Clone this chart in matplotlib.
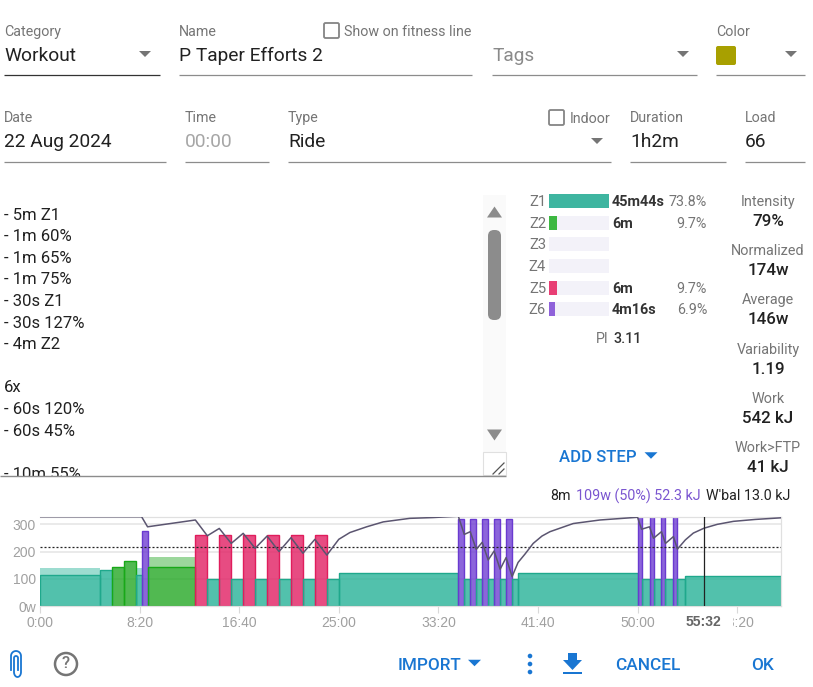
import numpy as np
import matplotlib
matplotlib.use('Agg')
import matplotlib.pyplot as plt
from matplotlib.patches import Rectangle, Circle, Polygon, FancyBboxPatch
from matplotlib.transforms import blended_transform_factory

plt.rcParams['font.family'] = ['Roboto', 'DejaVu Sans']

W, H = 813, 687

# workout steps
step_secs = [300, 60, 60, 60, 30, 30, 240,
             60, 60, 60, 60, 60, 60, 60, 60, 60, 60, 60, 60,
             600,
             30, 30, 30, 30, 30, 30, 30, 30, 30, 30,
             600,
             20, 40, 20, 40, 20, 40, 20, 40,
             480]
step_watts = [114, 131, 142, 164, 114, 277, 143,
              262, 98, 262, 98, 262, 98, 262, 98, 262, 98, 262, 98,
              120,
              320, 98, 320, 98, 320, 98, 320, 98, 320, 98,
              120,
              400, 98, 400, 98, 400, 98, 400, 98,
              109]
step_top = [140, 131, 142, 164, 140, 277, 179,
            262, 98, 262, 98, 262, 98, 262, 98, 262, 98, 262, 98,
            120,
            320, 98, 320, 98, 320, 98, 320, 98, 320, 98,
            120,
            400, 98, 400, 98, 400, 98, 400, 98,
            109]
step_zone = [1, 1, 2, 2, 1, 6, 2,
             5, 1, 5, 1, 5, 1, 5, 1, 5, 1, 5, 1,
             1,
             6, 1, 6, 1, 6, 1, 6, 1, 6, 1,
             1,
             6, 1, 6, 1, 6, 1, 6, 1,
             1]
ftp = 218
cursor_sec = 3332

# W'bal line, on the power axis scale
wbal_secs = [0, 510, 540, 780, 840, 900, 960, 1020, 1080, 1140, 1200, 1260, 1320, 1380, 1440,
             1500, 1556, 1640, 1723, 1856, 1973, 2100, 2130, 2160, 2190, 2220, 2250, 2280, 2310, 2340, 2370,
             2400, 2435, 2476, 2520, 2560, 2677, 2811, 3000, 3020, 3060, 3080, 3120, 3140, 3180, 3200,
             3240, 3280, 3334, 3400, 3481, 3590, 3720]
wbal_vals = [328, 328, 291, 316, 258, 285, 230, 267, 212, 257, 200, 251, 194, 245, 187,
             245, 270, 291, 309, 322, 325, 330, 263, 273, 208, 234, 169, 202, 135, 178, 108,
             160, 191, 230, 257, 273, 303, 316, 326, 282, 291, 249, 273, 230, 255, 209,
             243, 268, 286, 300, 311, 318, 324]

x_ticks = [0, 500, 1000, 1500, 2000, 2500, 3000, 3500]
x_tick_labels = ['0:00', '8:20', '16:40', '25:00', '33:20', '41:40', '50:00', '58:20']
y_ticks = [0, 100, 200, 300]
y_tick_labels = ['0w', '100', '200', '300']

# zone table
zone_names = ['Z1', 'Z2', 'Z3', 'Z4', 'Z5', 'Z6']
zone_pct = [73.8, 9.7, 0, 0, 9.7, 6.9]
zone_times = ['45m44s', '6m', '', '', '6m', '4m16s']
zone_pct_labels = ['73.8%', '9.7%', '', '', '9.7%', '6.9%']

stat_names = ['Intensity', 'Normalized', 'Average', 'Variability', 'Work', 'Work>FTP']
stat_values = ['79%', '174w', '146w', '1.19', '542 kJ', '41 kJ']

description = ['- 5m Z1', '- 1m 60%', '- 1m 65%', '- 1m 75%', '- 30s Z1', '- 30s 127%', '- 4m Z2', '',
               '6x', '- 60s 120%', '- 60s 45%', '', '- 10m 55%']

zone_fill = {1: '#27b297', 2: '#25a825', 5: '#e21f63', 6: '#6f3fd2'}
zone_edge = {1: '#1fa88c', 2: '#18a818', 5: '#e01d5c', 6: '#6a3ad0'}
zone_bar = {1: '#3eb5a0', 2: '#3db842', 5: '#e83e74', 6: '#8f62da'}

GREY = '#757575'
DARK = '#212121'
LINE = '#8c8c8c'
BLUE = '#1976d2'

fig = plt.figure(figsize=(W / 100, H / 100), dpi=100, facecolor='white')

# full figure layer in pixels for the form around the chart
ui = fig.add_axes([0, 0, 1, 1])
ui.set_xlim(0, W)
ui.set_ylim(H, 0)
ui.axis('off')


def txt(x, y, s, size=10.3, color=DARK, ha='left', weight='normal', zorder=3):
    return ui.text(x, y + 1, s, fontsize=size, color=color, ha=ha, va='center', weight=weight, zorder=zorder)


def hline(x0, x1, y, color=LINE, lw=0.9, zorder=3):
    ui.plot([x0, x1], [y, y], color=color, lw=lw, solid_capstyle='butt', zorder=zorder)


def tri(cx, cy, w=12, h=6, color=GREY, down=True):
    d = h / 2 if down else -h / 2
    ui.add_patch(Polygon([(cx - w / 2, cy - d), (cx + w / 2, cy - d), (cx, cy + d)], color=color, lw=0))


def checkbox(x, y, s=15):
    ui.add_patch(FancyBboxPatch((x, y), s, s, boxstyle='round,pad=0,rounding_size=1.5',
                                fc='white', ec='#858585', lw=1.3))


LBL = 10.3
VAL = 13.8

txt(4, 31, 'Category', LBL, GREY)
txt(4, 55, 'Workout', VAL)
hline(4, 160, 75, '#333333')
tri(145, 54)

txt(179, 31, 'Name', LBL, GREY)
txt(179, 55, 'P Taper Efforts 2', VAL)
hline(179, 472, 75)
checkbox(324, 23)
txt(344, 31, 'Show on fitness line', LBL, GREY)

txt(492, 55, 'Tags', VAL, '#8a8a8a')
hline(492, 697, 75)
tri(683, 54)

txt(716, 31, 'Color', LBL, GREY)
ui.add_patch(FancyBboxPatch((716, 46), 20, 19, boxstyle='round,pad=0,rounding_size=2', fc='#a8a000', ec='none'))
tri(791, 54)
hline(716, 805, 75)

txt(4, 117, 'Date', LBL, GREY)
txt(4, 141, '22 Aug 2024', VAL)
hline(4, 166, 162)
txt(185, 117, 'Time', LBL, GREY)
txt(185, 141, '00:00', VAL, '#a6a6a6')
hline(185, 269, 162)
txt(288, 117, 'Type', LBL, GREY)
txt(288, 141, 'Ride', VAL)
hline(288, 611, 162)
tri(597, 141)
checkbox(549, 110)
txt(570, 118, 'Indoor', LBL, GREY)
txt(630, 117, 'Duration', LBL, GREY)
txt(630, 141, '1h2m', VAL)
hline(630, 726, 162)
txt(745, 117, 'Load', LBL, GREY)
txt(745, 141, '66', VAL)
hline(745, 805, 162)

# description box, last line cut off by the border
for i, line in enumerate(description):
    txt(4, 214 + i * 21.6, line, 12, zorder=2)
ui.add_patch(Rectangle((0, 476), 510, 14, fc='white', ec='none', zorder=2.5))

# scrollbar
ui.add_patch(Rectangle((483, 195), 23, 280, fc='#fafafa', ec='none'))
ui.add_patch(FancyBboxPatch((488, 230), 13, 90, boxstyle='round,pad=0,rounding_size=6', fc='#8c8c8c', ec='none'))
tri(494.5, 212, 15, 11, '#8c8c8c', down=False)
tri(494.5, 435, 15, 11, '#8c8c8c', down=True)
ui.add_patch(Rectangle((483, 452), 23, 23, fc='white', ec='#e0e0e0', lw=0.8))
ui.plot([493, 504], [474, 463], color='#555555', lw=0.9)
ui.plot([499, 504], [474, 469], color='#555555', lw=0.9)
hline(0, 506, 475.8, '#8c8c8c', lw=1.0)

# zone table
zone_y = 201 + np.arange(len(zone_names)) * 21.65
zones_ax = fig.add_axes([549 / W, 1 - 316 / H, 60 / W, 122 / H])
zones_ax.set_xlim(0, max(zone_pct))
zones_ax.set_ylim(316, 194)
zones_ax.axis('off')
zones_ax.barh(zone_y, [max(zone_pct)] * len(zone_y), height=14, color='#f3f2f9', lw=0)
zones_ax.barh(zone_y, zone_pct, height=14, color=[zone_bar[1], zone_bar[2], zone_bar[2], zone_bar[2], zone_bar[5], zone_bar[6]], lw=0)
for i, y in enumerate(zone_y):
    txt(546, y, zone_names[i], 10.6, GREY, ha='right')
    txt(612, y, zone_times[i], 10.4, '#333333', weight='bold')
    txt(707, y, zone_pct_labels[i], 10.3, GREY, ha='right')
txt(608, 338, 'PI', 10.3, GREY, ha='right')
txt(613, 338, '3.11', 10.3, '#333333', weight='medium')

for i, name in enumerate(stat_names):
    y = 201 + i * 49.2
    txt(768, y, name, 10.4, GREY, ha='center')
    txt(768, y + 19.5, stat_values[i], 12.2, DARK, ha='center', weight='medium')

txt(559, 457, 'ADD STEP', 12, BLUE, weight='medium')
tri(651, 455.5, 13, 6.5, BLUE)

# readout above the chart
txt(550, 495, '8m', 10.3, DARK)
txt(576, 495, "109w (50%) 52.3 kJ", 10.3, '#7a55d0')
txt(706, 495, "W'bal 13.0 kJ", 10.3, DARK)

# chart
ax = fig.add_axes([40 / W, 1 - 606 / H, 741 / W, 89 / H])
edges = np.concatenate([[0], np.cumsum(step_secs)])
ax.set_xlim(0, edges[-1])
ax.set_ylim(0, 327)
ax.set_axisbelow(True)
for i, dur in enumerate(step_secs):
    z = step_zone[i]
    ax.bar(edges[i], step_watts[i], width=dur, align='edge', color=zone_fill[z], alpha=0.8, lw=0, zorder=2)
    ax.bar(edges[i], step_watts[i], width=dur, align='edge', fill=False, edgecolor=zone_edge[z], lw=1.0, zorder=2.2)
    if step_top[i] > step_watts[i]:
        ax.bar(edges[i], step_top[i] - step_watts[i], bottom=step_watts[i], width=dur, align='edge',
               color=zone_fill[z], alpha=0.45, lw=0, zorder=2)
ax.axhline(ftp, color='#222222', lw=0.9, ls=(0, (1.6, 1.6)), zorder=3)
ax.plot(wbal_secs, wbal_vals, color='#5b5570', lw=1.1, zorder=4)
ax.axvline(cursor_sec, color='#222222', lw=0.9, zorder=5)
ax.set_yticks(y_ticks)
ax.set_yticklabels(y_tick_labels)
ax.set_xticks(x_ticks)
ax.set_xticklabels(x_tick_labels)
ax.grid(axis='y', color='#e6e6e6', lw=1.2, zorder=0)
ax.tick_params(axis='x', length=5, width=0.8, color='#d9d9d9', labelcolor='#a0a0a0', pad=2,
               labelsize=10, labelfontfamily='Liberation Sans')
ax.tick_params(axis='y', length=0, labelcolor='#a0a0a0', pad=3,
               labelsize=10, labelfontfamily='Liberation Sans')
for s in ax.spines.values():
    s.set_color('#e0e0e0')
    s.set_linewidth(0.9)
ax.spines['left'].set_visible(False)
tr = blended_transform_factory(ax.transData, ax.transAxes)
# the cursor label hides part of the tick label behind it
ax.add_patch(Rectangle((cursor_sec - 90, -0.27), 235, 0.18, transform=tr, fc='white', ec='none',
                       clip_on=False, zorder=9))
ax.text(cursor_sec, -0.175, '55:32', transform=tr, ha='center', va='center', fontsize=10, weight='bold',
        color='#666666', family=['Liberation Sans', 'DejaVu Sans'], clip_on=False, zorder=10)

# bottom action row
txt(398, 664, 'IMPORT', 12.3, BLUE, weight='medium')
tri(474.5, 663, 13, 6.5, BLUE)
for y in [656, 664, 672]:
    ui.add_patch(Circle((530, y), 2.3, color=BLUE, lw=0))
ui.add_patch(Polygon([(568, 653), (577, 653), (577, 660), (582, 660), (572.5, 670), (563, 660), (568, 660)], color=BLUE, lw=0))
ui.add_patch(Rectangle((563, 672), 19, 2.2, color=BLUE, lw=0))
txt(615, 664, 'CANCEL', 12.4, BLUE, weight='medium')
txt(751, 664, 'OK', 12.4, BLUE, weight='medium')

# paperclip and help icons
t = np.linspace(0, np.pi, 20)
clip_x = np.concatenate([[11], 16 - 5 * np.cos(t), [21, 21], 17.5 + 3.5 * np.cos(t), [14, 14], 16 - 2 * np.cos(t), [18, 18]])
clip_y = np.concatenate([[670], 656 - 5 * np.sin(t), [656, 672], 672 + 5 * np.sin(t), [672, 658], 658 - 2 * np.sin(t), [658, 670]])
ui.plot(clip_x, clip_y, color=BLUE, lw=1.3)
ui.add_patch(Circle((66, 664), 11, fc='white', ec=GREY, lw=1.8))
txt(66, 663, '?', 12, GREY, ha='center', weight='medium')

fig.savefig('out.png', dpi=100, facecolor='white')
